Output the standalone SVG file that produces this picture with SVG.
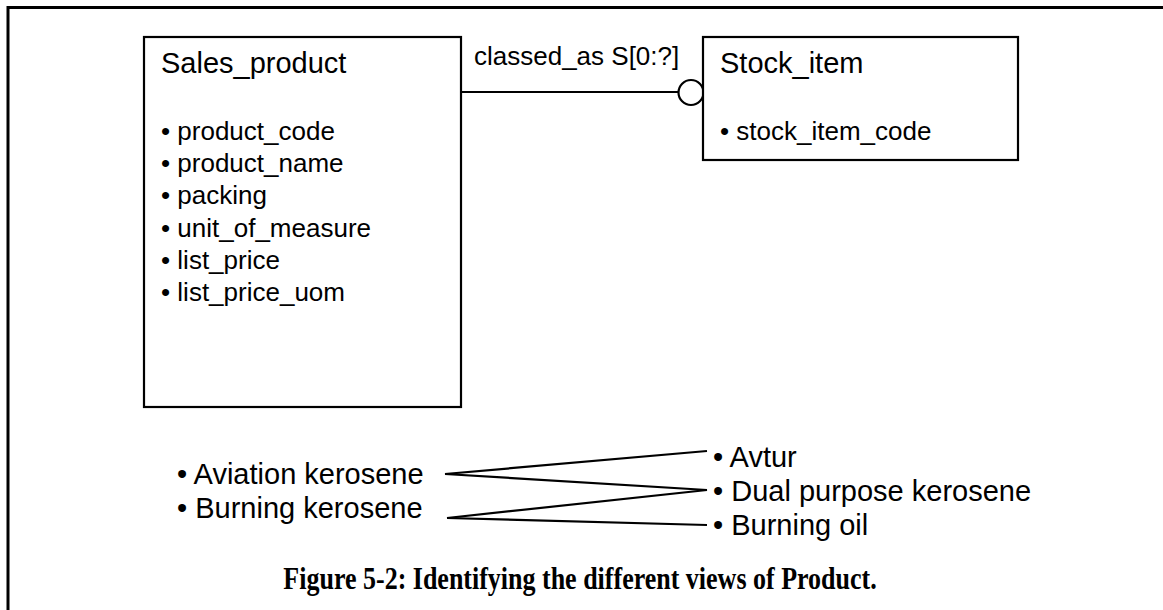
<svg xmlns="http://www.w3.org/2000/svg" width="1163" height="610" viewBox="0 0 1163 610">
  <style>
    .box { fill: #ffffff; stroke: #000000; stroke-width: 2.2; }
    .frame { fill: none; stroke: #000000; stroke-width: 3; }
    .link { fill: none; stroke: #000000; stroke-width: 2.2; }
    .title { font-family: "Liberation Sans", Arial, sans-serif; font-size: 29px; fill: #000000; }
    .attr { font-family: "Liberation Sans", Arial, sans-serif; font-size: 26px; fill: #000000; }
    .term { font-family: "Liberation Sans", Arial, sans-serif; font-size: 29px; fill: #000000; }
    .caption { font-family: "Liberation Serif", "Times New Roman", serif; font-size: 26px; font-weight: bold; fill: #000000; }
  </style>
  <rect width="1163" height="610" fill="#ffffff"/>

  <!-- page frame: top and left edges -->
  <path class="frame" d="M8,612 L8,7.5 L1165,7.5"/>

  <!-- connectors -->
  <g id="connectors">
    <line class="link" x1="461" y1="92" x2="678.5" y2="92"/>
    <circle class="link" cx="691" cy="92.5" r="12.5" fill="#ffffff"/>
    <text class="attr" x="474" y="65">classed_as S[0:?]</text>
    <!-- term mapping lines -->
    <line class="link" x1="445" y1="474" x2="707" y2="451"/>
    <line class="link" x1="445" y1="474" x2="707" y2="490"/>
    <line class="link" x1="447" y1="518" x2="707" y2="490"/>
    <line class="link" x1="447" y1="518" x2="707" y2="525"/>
  </g>

  <g id="sales_product">
    <rect class="box" x="144" y="37" width="317" height="370"/>
    <text class="title" x="161" y="73">Sales_product</text>
    <text class="attr" x="161" y="140">• product_code</text>
    <text class="attr" x="161" y="172">• product_name</text>
    <text class="attr" x="161" y="204">• packing</text>
    <text class="attr" x="161" y="237">• unit_of_measure</text>
    <text class="attr" x="161" y="269">• list_price</text>
    <text class="attr" x="161" y="301">• list_price_uom</text>
  </g>

  <g id="stock_item">
    <rect class="box" x="703" y="37" width="315" height="123"/>
    <text class="title" x="720" y="73">Stock_item</text>
    <text class="attr" x="720" y="140">• stock_item_code</text>
  </g>

  <g id="aviation_kerosene">
    <text class="term" x="177" y="484">• Aviation kerosene</text>
  </g>
  <g id="burning_kerosene">
    <text class="term" x="177" y="518">• Burning kerosene</text>
  </g>
  <g id="avtur">
    <text class="term" x="713" y="467">• Avtur</text>
  </g>
  <g id="dual_purpose_kerosene">
    <text class="term" x="713" y="501">• Dual purpose kerosene</text>
  </g>
  <g id="burning_oil">
    <text class="term" x="713" y="535">• Burning oil</text>
  </g>

  <!-- caption, set in a tall narrow bold serif -->
  <text class="caption" text-anchor="middle" transform="translate(580,589) scale(1,1.2)">Figure 5-2: Identifying the different views of Product.</text>
</svg>
